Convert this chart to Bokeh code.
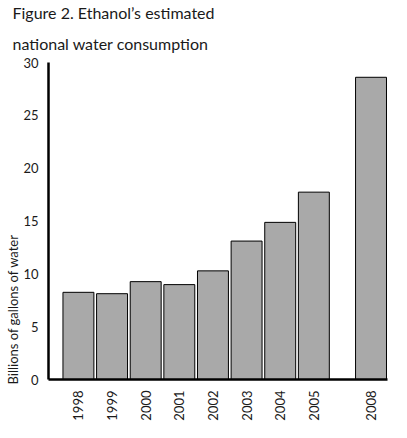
from bokeh.plotting import figure
from bokeh.models import Range1d, FixedTicker, Title, ColumnDataSource
from bokeh.embed import file_html
from bokeh.resources import INLINE

# Estimated national water consumption by ethanol production (billions of gallons)
years = ["1998", "1999", "2000", "2001", "2002", "2003", "2004", "2005", "2008"]
water = [8.25, 8.12, 9.26, 8.98, 10.28, 13.1, 14.87, 17.73, 28.6]
y_ticks = [0, 5, 10, 15, 20, 25, 30]

FONT = "Lato"

# bar slots: consecutive years side by side, then a gap before the projected year
gap = 0.7
xpos = []
for i, yr in enumerate(years):
    xpos.append(i + (gap if i == len(years) - 1 else 0))

src = ColumnDataSource(dict(x=xpos, top=water, year=years))

p = figure(width=407, height=438, output_backend="svg", toolbar_location=None,
           x_range=Range1d(-0.89, xpos[-1] + 0.49), y_range=Range1d(0, 30),
           min_border_left=48, min_border_right=20, min_border_top=53,
           min_border_bottom=59)
p.background_fill_color = "#ffffff"
p.border_fill_color = "#ffffff"
p.outline_line_color = None
p.grid.visible = False

p.vbar(x="x", top="top", width=0.92, bottom=0, source=src,
       fill_color="#a9a9a9", line_color="#000000", line_width=1)

# axes
p.yaxis.ticker = FixedTicker(ticks=y_ticks)
p.xaxis.ticker = FixedTicker(ticks=xpos)
p.xaxis.major_label_overrides = {x: y for x, y in zip(xpos, years)}
p.xaxis.major_label_orientation = 1.5708
for ax in (p.xaxis, p.yaxis):
    ax.axis_line_width = 2.5
    ax.axis_line_color = "#000000"
    ax.major_tick_line_color = None
    ax.minor_tick_line_color = None
    ax.major_label_text_font = FONT
    ax.major_label_text_font_size = "13px"
    ax.major_label_text_color = "#1a1a1a"
p.yaxis.major_label_standoff = 4
p.xaxis.major_label_standoff = 5

# two-line heading: the first title added sits next to the frame
for text, gap_below in (("national water consumption", 20),
                        ("Figure 2. Ethanol\u2019s estimated", 0)):
    p.add_layout(Title(text=text, align="left", offset=-36,
                       vertical_align="bottom", text_font=FONT,
                       text_font_size="16px", text_font_style="normal",
                       text_color="#1a1a1a", text_line_height=0.5,
                       standoff=gap_below), "above")

# vertical axis caption, sitting low along the axis
p.add_layout(Title(text="Billions of gallons of water", align="left", offset=-5,
                   text_font=FONT, text_font_size="13px",
                   text_font_style="normal", text_color="#1a1a1a",
                   standoff=0), "left")

open("out.html", "w").write(file_html(p, INLINE))
